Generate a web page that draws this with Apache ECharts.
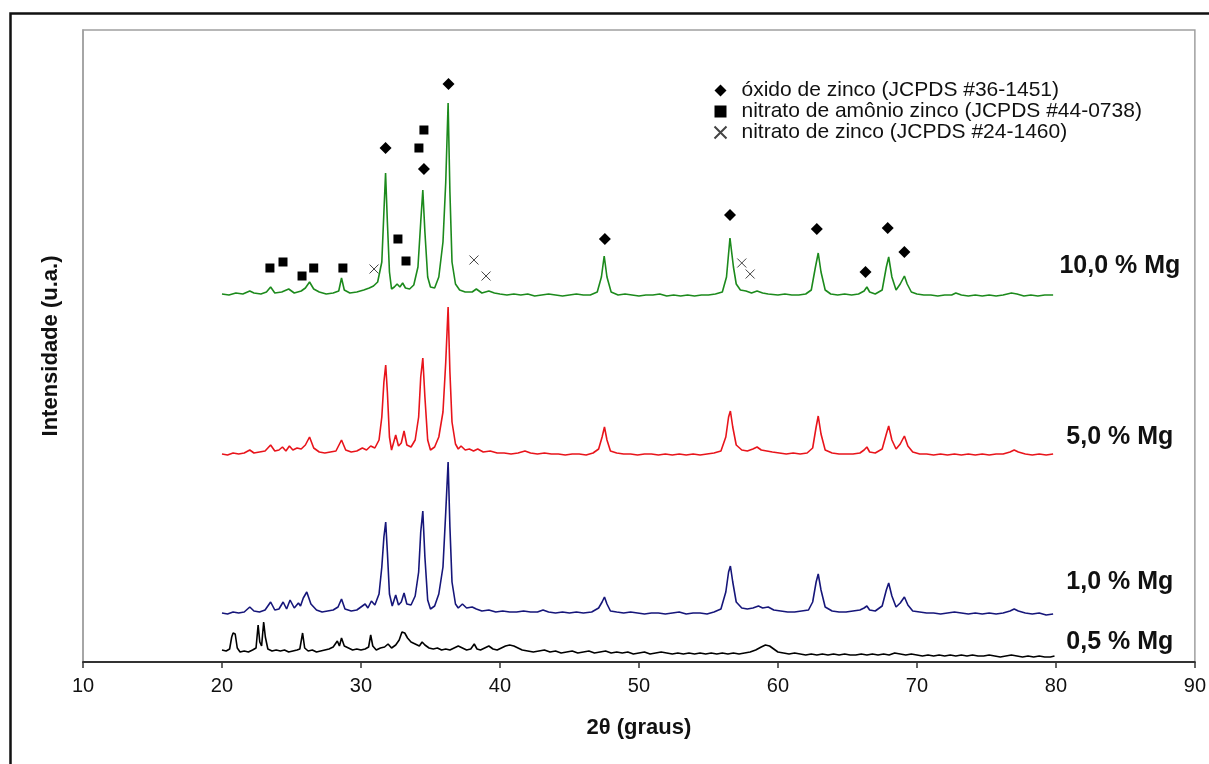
<!DOCTYPE html>
<html>
<head>
<meta charset="utf-8">
<title>DRX - amostras com Mg</title>
<script src="https://cdn.jsdelivr.net/npm/echarts@6/dist/echarts.min.js"></script>
<style>
  html, body { margin: 0; padding: 0; background: #fff; }
  #chart { width: 1209px; height: 764px; }
</style>
</head>
<body>
<div id="chart"></div>
<script>
// difratogramas [2θ, intensidade (u.a.)], já com o deslocamento vertical
const mg10 = [
  [20.0,368],[20.5,367],[21.0,369],[21.5,368],[22.0,371],[22.3,369],[22.8,368],[23.2,370],[23.5,375],[23.8,369],
  [24.3,370],[24.8,373],[25.2,369],[25.7,371],[26.0,374],[26.3,380],[26.6,373],[27.0,370],[27.5,368],[28.0,369],
  [28.4,371],[28.6,384],[28.8,372],[29.2,369],[29.7,370],[30.2,372],[30.6,374],[30.9,376],[31.2,380],[31.5,400],
  [31.65,450],[31.77,489],[31.9,440],[32.05,390],[32.2,373],[32.4,375],[32.6,378],[32.8,375],[33.0,379],[33.2,374],
  [33.5,373],[33.8,377],[34.1,395],[34.3,440],[34.45,472],[34.6,430],[34.8,385],[35.0,375],[35.3,374],[35.6,385],
  [35.9,420],[36.1,480],[36.27,559],[36.4,470],[36.55,400],[36.8,378],[37.1,372],[37.5,370],[38.0,370],[38.3,373],
  [38.7,369],[39.2,371],[39.6,369],[40.0,368],[40.5,367],[41.0,368],[41.5,367],[42.0,368],[42.5,366],[43.0,367],
  [43.5,368],[44.0,367],[44.5,366],[45.0,367],[45.5,368],[46.0,367],[46.5,367],[47.0,370],[47.3,385],[47.5,406],
  [47.7,385],[48.0,370],[48.5,367],[49.0,368],[49.5,367],[50.0,366],[50.5,367],[51.0,367],[51.5,368],[52.0,366],
  [52.5,367],[53.0,366],[53.5,367],[54.0,366],[54.5,367],[55.0,367],[55.5,368],[56.0,370],[56.3,385],[56.55,424],
  [56.8,395],[57.0,378],[57.3,372],[57.7,371],[58.1,369],[58.5,371],[58.9,369],[59.3,368],[60.0,367],[60.5,368],
  [61.0,367],[61.5,367],[62.0,368],[62.4,372],[62.7,395],[62.9,409],[63.1,390],[63.4,372],[63.8,368],[64.3,367],
  [64.8,368],[65.3,367],[65.8,368],[66.2,371],[66.4,375],[66.6,370],[67.0,368],[67.5,372],[67.8,395],[67.97,405],
  [68.2,385],[68.5,372],[68.8,378],[69.1,386],[69.3,378],[69.6,370],[70.0,368],[70.5,367],[71.0,367],[71.5,366],
  [72.0,367],[72.5,367],[72.8,369],[73.2,367],[73.7,366],[74.2,367],[74.7,366],[75.2,367],[75.7,366],[76.2,367],
  [76.8,369],[77.2,368],[77.7,366],[78.2,367],[78.7,366],[79.2,367],[79.8,367]
];
const mg5 = [
  [20.0,208],[20.4,207],[20.8,209],[21.2,208],[21.6,209],[22.0,212],[22.3,209],[22.7,210],[23.1,211],[23.5,217],
  [23.8,211],[24.1,212],[24.35,215],[24.6,211],[24.85,216],[25.1,212],[25.4,214],[25.7,213],[26.0,217],[26.3,225],
  [26.6,214],[27.0,210],[27.4,209],[27.8,210],[28.2,211],[28.6,222],[28.9,212],[29.3,210],[29.7,211],[30.1,214],
  [30.4,212],[30.7,216],[31.0,214],[31.3,222],[31.5,245],[31.65,280],[31.78,297],[31.9,270],[32.05,225],[32.2,212],
  [32.5,227],[32.7,216],[32.9,219],[33.1,231],[33.3,217],[33.6,215],[33.9,222],[34.15,245],[34.3,285],[34.45,304],
  [34.6,265],[34.8,222],[35.0,212],[35.3,215],[35.6,225],[35.9,250],[36.1,300],[36.27,355],[36.4,290],[36.55,240],
  [36.8,218],[37.0,213],[37.2,216],[37.5,212],[37.8,213],[38.1,211],[38.4,213],[38.8,210],[39.3,211],[39.8,209],
  [40.3,209],[40.8,208],[41.3,209],[41.8,211],[42.2,209],[42.7,208],[43.2,209],[43.7,208],[44.2,208],[44.7,207],
  [45.2,208],[45.7,208],[46.2,207],[46.7,209],[47.1,213],[47.35,225],[47.52,235],[47.7,222],[47.95,211],[48.4,209],
  [48.9,208],[49.4,208],[49.9,207],[50.4,208],[50.9,208],[51.4,207],[51.9,208],[52.4,207],[52.9,208],[53.4,207],
  [53.9,208],[54.4,207],[54.9,208],[55.4,209],[55.9,211],[56.25,225],[56.45,245],[56.58,251],[56.75,235],[57.0,217],
  [57.4,212],[57.8,211],[58.2,213],[58.5,215],[58.8,212],[59.2,211],[59.6,210],[60.1,209],[60.6,208],[61.1,209],
  [61.6,208],[62.1,209],[62.5,214],[62.75,235],[62.9,246],[63.1,228],[63.4,212],[63.9,209],[64.4,208],[64.9,208],
  [65.4,208],[65.9,209],[66.2,212],[66.4,215],[66.6,210],[67.0,209],[67.5,213],[67.8,228],[67.97,236],[68.2,222],
  [68.5,213],[68.8,218],[69.1,226],[69.35,216],[69.7,210],[70.2,208],[70.7,208],[71.2,207],[71.7,208],[72.2,207],
  [72.7,208],[73.2,207],[73.7,208],[74.2,207],[74.7,208],[75.2,207],[75.7,208],[76.2,208],[76.7,210],[77.0,212],
  [77.3,210],[77.8,208],[78.3,207],[78.8,208],[79.3,207],[79.8,208]
];
const mg1 = [
  [20.0,49],[20.4,48],[20.8,50],[21.2,49],[21.6,50],[22.0,55],[22.3,51],[22.7,50],[23.1,52],[23.5,60],
  [23.8,52],[24.1,53],[24.4,60],[24.65,53],[24.9,62],[25.2,54],[25.5,59],[25.65,56],[25.85,64],[26.1,70],
  [26.4,58],[26.8,52],[27.2,50],[27.6,51],[28.0,52],[28.35,55],[28.6,63],[28.85,53],[29.3,51],[29.7,52],
  [30.0,55],[30.3,58],[30.5,54],[30.75,61],[31.0,57],[31.3,68],[31.5,95],[31.65,125],[31.78,140],[31.9,110],
  [32.05,68],[32.25,56],[32.5,67],[32.7,57],[32.9,60],[33.1,69],[33.3,58],[33.6,57],[33.9,66],[34.15,90],
  [34.3,130],[34.45,151],[34.6,105],[34.8,62],[35.0,53],[35.3,56],[35.6,68],[35.9,95],[36.1,150],[36.27,200],
  [36.4,135],[36.55,80],[36.8,58],[37.0,54],[37.3,58],[37.6,54],[38.0,55],[38.3,53],[38.7,51],[39.2,52],
  [39.7,50],[40.2,51],[40.7,50],[41.2,50],[41.7,51],[42.2,50],[42.7,50],[43.1,52],[43.5,50],[44.0,49],
  [44.5,50],[45.0,49],[45.5,50],[46.0,49],[46.6,50],[47.1,54],[47.35,60],[47.52,65],[47.7,58],[47.95,51],
  [48.4,50],[48.9,49],[49.4,50],[49.9,49],[50.4,48],[50.9,49],[51.4,49],[51.9,48],[52.4,49],[52.9,50],
  [53.4,48],[53.9,49],[54.4,49],[54.9,48],[55.4,50],[55.9,53],[56.25,70],[56.45,90],[56.58,96],[56.75,80],
  [57.0,60],[57.4,54],[57.8,53],[58.2,54],[58.6,56],[58.9,54],[59.3,55],[59.7,52],[60.2,51],[60.7,50],
  [61.2,50],[61.7,51],[62.2,52],[62.5,60],[62.75,80],[62.9,88],[63.1,72],[63.4,55],[63.9,51],[64.4,50],
  [64.9,50],[65.4,51],[65.9,52],[66.2,54],[66.4,56],[66.6,52],[67.0,51],[67.5,56],[67.8,72],[67.97,79],
  [68.2,66],[68.5,55],[68.8,59],[69.1,65],[69.35,57],[69.7,51],[70.2,50],[70.7,49],[71.2,49],[71.7,48],
  [72.2,49],[72.7,50],[73.2,49],[73.7,48],[74.2,49],[74.7,48],[75.2,49],[75.7,48],[76.2,49],[76.7,51],
  [77.0,53],[77.3,51],[77.8,49],[78.3,48],[78.8,49],[79.3,47],[79.8,48]
];
const mg05 = [
  [20.0,12],[20.3,11],[20.55,13],[20.7,25],[20.8,29],[20.95,28],[21.1,14],[21.3,10],[21.6,11],[21.9,10],
  [22.2,12],[22.45,14],[22.6,37],[22.72,20],[22.85,16],[23.0,40],[23.12,25],[23.3,13],[23.6,11],[23.9,12],
  [24.2,11],[24.5,12],[24.8,10],[25.1,11],[25.4,12],[25.6,13],[25.8,29],[25.95,14],[26.2,11],[26.5,12],
  [26.8,10],[27.1,11],[27.4,12],[27.7,13],[28.0,15],[28.3,21],[28.45,16],[28.6,24],[28.8,16],[29.1,14],
  [29.4,12],[29.7,13],[30.0,12],[30.3,13],[30.55,15],[30.7,27],[30.85,16],[31.1,12],[31.4,14],[31.7,15],
  [31.95,18],[32.2,14],[32.5,17],[32.75,22],[32.95,30],[33.15,29],[33.35,24],[33.6,20],[33.9,18],[34.2,16],
  [34.4,20],[34.6,17],[34.9,14],[35.2,13],[35.5,14],[35.8,12],[36.1,13],[36.4,12],[36.7,14],[37.0,16],
  [37.3,14],[37.6,12],[37.9,13],[38.15,18],[38.35,13],[38.6,12],[38.9,14],[39.2,16],[39.5,13],[39.8,12],
  [40.1,14],[40.4,16],[40.7,17],[41.0,16],[41.3,14],[41.6,12],[42.0,11],[42.4,10],[42.8,11],[43.2,12],
  [43.6,10],[44.0,11],[44.4,9],[44.8,10],[45.2,11],[45.6,9],[46.0,10],[46.4,11],[46.8,9],[47.2,10],
  [47.6,11],[48.0,9],[48.4,10],[48.8,9],[49.2,10],[49.6,8],[50.0,9],[50.4,10],[50.8,8],[51.2,9],
  [51.6,10],[52.0,9],[52.4,8],[52.8,9],[53.2,8],[53.6,9],[54.0,8],[54.4,9],[54.8,8],[55.2,9],
  [55.6,8],[56.0,9],[56.4,8],[56.8,9],[57.2,8],[57.6,9],[58.0,10],[58.4,12],[58.8,15],[59.1,17],
  [59.4,16],[59.7,13],[60.0,10],[60.4,9],[60.8,8],[61.2,9],[61.6,8],[62.0,7],[62.4,8],[62.8,7],
  [63.2,8],[63.6,7],[64.0,8],[64.4,7],[64.8,8],[65.2,7],[65.6,7],[66.0,8],[66.4,7],[66.8,8],
  [67.2,7],[67.6,8],[68.0,7],[68.4,9],[68.8,8],[69.2,7],[69.6,8],[70.0,7],[70.4,6],[70.8,7],
  [71.2,6],[71.6,7],[72.0,6],[72.4,7],[72.8,6],[73.2,7],[73.6,6],[74.0,7],[74.4,6],[74.8,6],
  [75.2,7],[75.6,6],[76.0,5],[76.4,6],[76.8,7],[77.2,6],[77.6,5],[78.0,6],[78.4,5],[78.8,6],
  [79.2,5],[79.6,5],[79.9,6]
];

// marcadores de fase (sobre a curva de 10,0 % Mg)
const oxidoZinco = [[31.77,514],[34.53,493],[36.3,578],[47.55,423],[56.55,447],[62.8,433],[66.3,390],[67.9,434],[69.1,410]];
const nitratoAmonio = [[23.45,394],[24.39,400],[25.76,386],[26.6,394],[28.7,394],[32.66,423],[33.24,401],[34.17,514],[34.53,532]];
const nitratoZinco = [[30.94,393],[38.13,402],[39.0,386],[57.4,399],[58.0,388]];

const faseNomes = ['óxido de zinco (JCPDS #36-1451)', 'nitrato de amônio zinco (JCPDS #44-0738)', 'nitrato de zinco (JCPDS #24-1460)'];
const amostras = ['10,0 % Mg', '5,0 % Mg', '1,0 % Mg', '0,5 % Mg'];
const xTicks = [10, 20, 30, 40, 50, 60, 70, 80, 90];

// onde fica o rótulo de cada amostra, à direita da curva
const rotuloPos = [[84.6,396],[84.6,225],[84.6,80],[84.6,20]];

const chart = echarts.init(document.getElementById('chart'));

const cores = ['#1c8a1c', '#e8141b', '#16167a', '#000000'];
const curvas = [mg10, mg5, mg1, mg05];

const series = curvas.map((d, i) => ({
  name: amostras[i],
  type: 'line',
  data: d,
  showSymbol: false,
  lineStyle: { color: cores[i], width: 1.6 },
  itemStyle: { color: cores[i] },
  silent: true,
  z: 2
}));

series.push({
  name: faseNomes[0], type: 'scatter', data: oxidoZinco,
  symbol: 'diamond', symbolSize: 12,
  itemStyle: { color: '#000', opacity: 1 }, z: 5
});
series.push({
  name: faseNomes[1], type: 'scatter', data: nitratoAmonio,
  symbol: 'rect', symbolSize: 9,
  itemStyle: { color: '#000', opacity: 1 }, z: 5
});
series.push({
  name: faseNomes[2], type: 'scatter', data: nitratoZinco,
  symbol: 'path://M0,0L10,10M10,0L0,10', symbolSize: 9,
  itemStyle: { color: 'none', borderColor: '#444', borderWidth: 1, opacity: 1 }, z: 5
});
series.push({
  name: 'rotulos', type: 'scatter', silent: true,
  symbolSize: 0,
  itemStyle: { opacity: 1 },
  data: amostras.map((nome, i) => ({ name: nome, value: rotuloPos[i] })),
  label: {
    show: true, position: 'inside', formatter: '{b}',
    color: '#111', fontSize: 25, fontWeight: 'bold', fontFamily: 'Liberation Sans, Arial, sans-serif'
  },
  z: 6
});

chart.setOption({
  backgroundColor: '#fff',
  animation: false,
  textStyle: { fontFamily: 'Liberation Sans, Arial, sans-serif' },
  grid: {
    left: 83, right: 14, top: 30, bottom: 102,
    show: true, borderColor: '#a0a0a0', borderWidth: 1.5, backgroundColor: 'transparent'
  },
  legend: {
    data: faseNomes,
    orient: 'vertical',
    left: 707, top: 75,
    itemWidth: 12, itemHeight: 12, itemGap: 0,
    selectedMode: false,
    formatter: nome => '{g|}' + nome,
    textStyle: {
      fontSize: 21, color: '#111', fontFamily: 'Liberation Sans, Arial, sans-serif',
      rich: { g: { width: 10 } }
    }
  },
  xAxis: {
    type: 'value', min: 10, max: 90, interval: 10,
    name: '2θ (graus)', nameLocation: 'middle', nameGap: 55,
    nameTextStyle: { fontSize: 22, fontWeight: 'bold', color: '#111' },
    axisLine: { show: true, onZero: false, lineStyle: { color: '#333', width: 1.8 } },
    axisTick: { show: true, length: 6, lineStyle: { color: '#333', width: 1.5 } },
    axisLabel: {
      fontSize: 20, color: '#111', margin: 14,
      formatter: v => xTicks.includes(v) ? String(v) : ''
    },
    splitLine: { show: false }
  },
  yAxis: {
    type: 'value', min: 0, max: 632,
    name: 'Intensidade (u.a.)', nameLocation: 'middle', nameGap: 21, nameRotate: 90,
    nameTextStyle: { fontSize: 22, fontWeight: 'bold', color: '#111' },
    axisLine: { show: true, lineStyle: { color: '#a0a0a0', width: 1.5 } },
    axisTick: { show: false },
    axisLabel: { show: false },
    splitLine: { show: false }
  },
  graphic: [{
    type: 'rect', left: 8, top: 11, silent: true,
    shape: { width: 1400, height: 900 },
    style: { fill: 'none', stroke: '#111', lineWidth: 2.5 }
  }],
  series: series
});
</script>
</body>
</html>
